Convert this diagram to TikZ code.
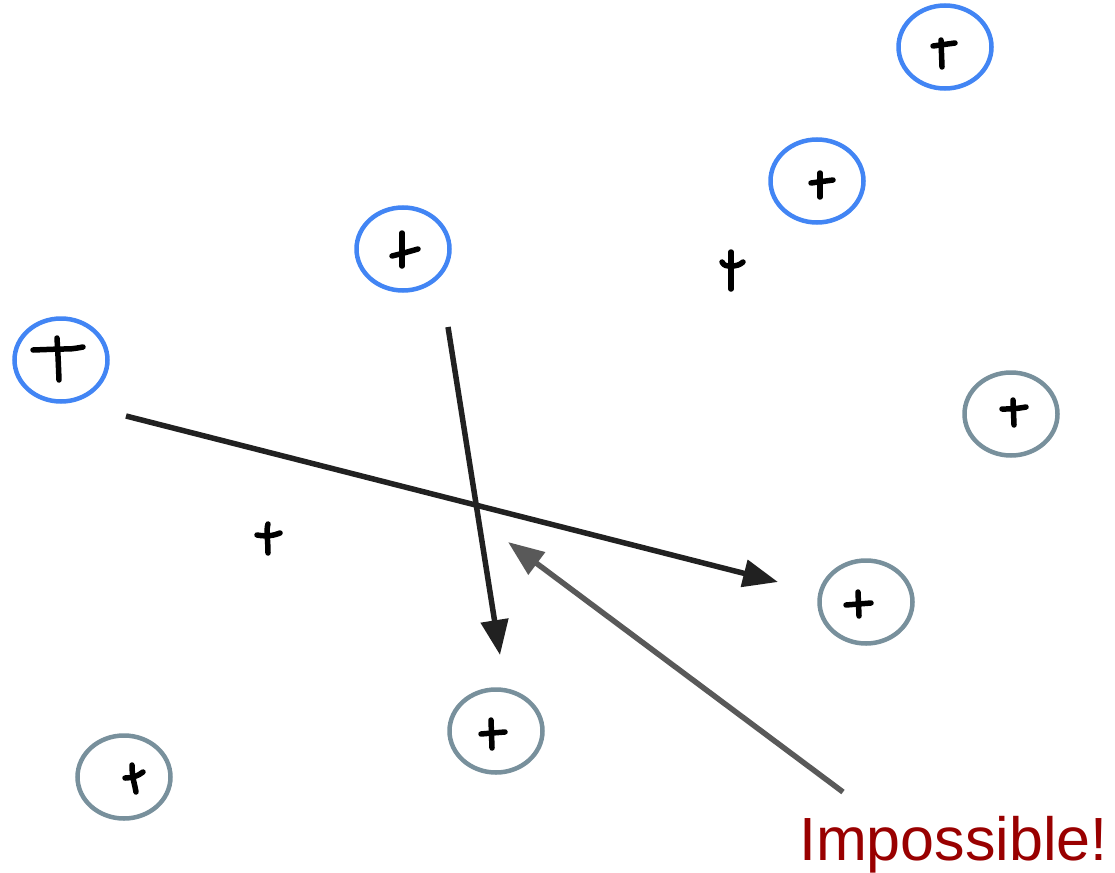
\documentclass[tikz,border=0pt]{standalone}
\usepackage{fontspec}
\setmainfont{Liberation Sans}
\usetikzlibrary{shapes.geometric,arrows.meta}
\definecolor{cblue}{HTML}{4285F4}
\definecolor{cgray}{HTML}{78909C}
\definecolor{cdark}{HTML}{212121}
\definecolor{cmid}{HTML}{595959}
\definecolor{cred}{HTML}{990000}
\tikzset{
  ring/.style={ellipse, draw, line width=4.5pt, minimum width=93pt, minimum height=83pt, inner sep=0pt},
  bluering/.style={ring, draw=cblue},
  grayring/.style={ring, draw=cgray},
  pen/.style={line width=5.5pt, line cap=round, line join=round, black},
  bigarrow/.style={line width=5.5pt, draw=cdark, -{Triangle[length=35pt,width=27pt]}},
  grayarrow/.style={line width=5.5pt, draw=cmid, -{Triangle[length=36pt,width=27pt]}},
}
\begin{document}
\begin{tikzpicture}[x=1pt,y=-1pt]
\useasboundingbox (0,0) rectangle (1115,872);
% rings
\node[bluering] (r1) at (61,360) {};
\node[bluering] (r2) at (403,249) {};
\node[bluering] (r3) at (945,47) {};
\node[bluering] (r4) at (817,181) {};
\node[grayring] (r5) at (1011,414) {};
\node[grayring] (r6) at (866,602) {};
\node[grayring] (r7) at (496,731) {};
\node[grayring] (r8) at (124,777) {};
% hand-drawn crosses
\draw[pen] (33,350) -- (60,349) .. controls (72,349) .. (83,347);
\draw[pen] (57,338) .. controls (58,355) .. (59,380);
\draw[pen] (402,233) -- (402,266);
\draw[pen] (392,256) .. controls (404,253) .. (418,249);
\draw[pen] (941,40) -- (942,67);
\draw[pen] (933,46) .. controls (944,44) .. (955,43);
\draw[pen] (820,173) -- (820,197);
\draw[pen] (811,183) .. controls (822,181) .. (833,180);
\draw[pen] (731,252) -- (731,289);
\draw[pen] (722,262) .. controls (724,266) and (727,266) .. (731,266) .. controls (736,266) and (740,265) .. (743,262);
\draw[pen] (1013,400) -- (1014,425);
\draw[pen] (1002,409) .. controls (1014,409) .. (1026,407);
\draw[pen] (268,524) .. controls (266,530) and (268,540) .. (268,553);
\draw[pen] (257,535) .. controls (268,537) and (275,535) .. (280,533);
\draw[pen] (858,592) -- (859,616);
\draw[pen] (846,605) .. controls (858,604) .. (871,603);
\draw[pen] (491,720) -- (492,748);
\draw[pen] (481,734) .. controls (492,733) .. (505,732);
\draw[pen] (132,765) .. controls (132,778) and (135,785) .. (136,792);
\draw[pen] (125,778) .. controls (132,778) and (138,776) .. (143,772);
% arrows
\coordinate (a1s) at (126,416);
\coordinate (a1e) at (778,582);
\coordinate (a2s) at (448,327);
\coordinate (a2e) at (500,655);
\coordinate (a3s) at (843,792);
\coordinate (a3e) at (508,542);
\draw[bigarrow] (a1s) -- (a1e);
\draw[bigarrow] (a2s) -- (a2e);
\draw[grayarrow] (a3s) -- (a3e);
% label
\node[anchor=base west, inner sep=0pt, text=cred, font=\fontsize{61}{61}\selectfont] (lbl) at (799,860) {Impossible!};
\end{tikzpicture}
\end{document}
